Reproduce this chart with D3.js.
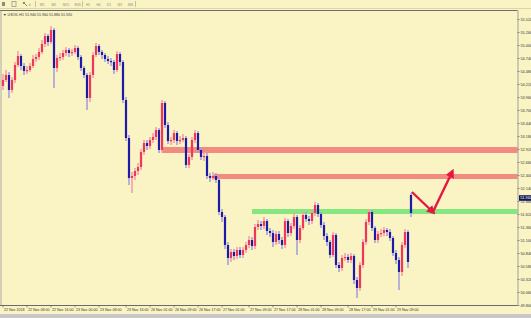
<!DOCTYPE html>
<html>
<head>
<meta charset="utf-8">
<script src="https://cdn.jsdelivr.net/npm/d3@7"></script>
<style>
  body { margin: 0; background: #faf3c4; }
  svg { display: block; font-family: "Liberation Sans", Arial, sans-serif; }
</style>
</head>
<body>
<svg id="chart" width="531" height="318"></svg>
<script>
// H1 bars: [open, high, low, close]
const bars = [
  [54.18,54.42,54.10,54.30],[54.30,54.50,54.26,54.40],[54.40,54.46,53.94,54.10],[54.10,54.36,54.04,54.30],
  [54.30,54.66,54.24,54.60],[54.60,54.88,54.56,54.78],[54.78,54.82,54.50,54.58],[54.58,54.64,54.40,54.48],
  [54.48,54.58,54.42,54.50],[54.50,54.64,54.46,54.58],[54.58,54.80,54.54,54.72],[54.72,54.82,54.66,54.76],
  [54.76,54.94,54.70,54.86],[54.86,55.10,54.82,55.02],[55.02,55.24,54.96,55.18],[55.18,55.22,54.98,55.06],
  [55.06,55.38,55.02,55.30],[55.30,55.34,54.14,54.54],[54.54,54.80,54.46,54.74],[54.74,54.84,54.68,54.76],
  [54.76,54.90,54.70,54.84],[54.84,54.96,54.78,54.90],[54.90,54.94,54.76,54.84],[54.84,54.92,54.78,54.86],
  [54.86,55.00,54.82,54.94],[54.94,54.98,54.70,54.76],[54.76,54.80,54.48,54.54],[54.54,54.58,54.34,54.40],
  [54.40,54.44,53.70,53.94],[53.94,54.46,53.86,54.40],[54.40,54.86,54.34,54.80],[54.80,55.04,54.76,54.98],
  [54.98,55.02,54.80,54.86],[54.86,54.90,54.72,54.80],[54.80,54.84,54.66,54.72],[54.72,54.78,54.62,54.68],
  [54.68,54.74,54.58,54.66],[54.66,54.70,54.42,54.50],[54.50,54.88,54.46,54.82],[54.82,54.86,54.58,54.66],
  [54.66,54.70,53.84,53.90],[53.90,53.96,53.08,53.14],[53.14,53.20,52.20,52.34],[52.34,52.46,52.04,52.38],
  [52.38,52.54,52.30,52.48],[52.48,52.64,52.40,52.56],[52.56,52.92,52.50,52.86],[52.86,53.10,52.80,53.04],
  [53.04,53.10,52.90,52.98],[52.98,53.16,52.92,53.10],[53.10,53.24,53.04,53.16],[53.16,53.36,53.10,53.30],
  [53.30,53.34,52.84,52.90],[52.90,53.90,52.84,53.84],[53.84,53.88,53.34,53.40],[53.40,53.46,53.02,53.08],
  [53.08,53.16,53.00,53.10],[53.10,53.30,53.04,53.24],[53.24,53.28,53.00,53.08],[53.08,53.18,53.02,53.10],
  [53.10,53.22,53.06,53.14],[53.14,53.18,52.54,52.60],[52.60,52.82,52.54,52.76],[52.76,53.16,52.70,53.10],
  [53.10,53.30,53.04,53.24],[53.24,53.28,52.84,52.90],[52.90,52.96,52.70,52.76],[52.76,52.86,52.68,52.78],
  [52.78,52.84,52.32,52.38],[52.38,52.44,52.26,52.34],[52.34,52.46,52.30,52.38],[52.38,52.44,52.24,52.30],
  [52.30,52.34,51.60,51.66],[51.66,51.72,51.46,51.56],[51.56,51.60,50.92,51.00],[51.00,51.06,50.60,50.74],
  [50.74,50.92,50.66,50.86],[50.86,50.92,50.70,50.78],[50.78,50.96,50.72,50.90],[50.90,50.96,50.74,50.80],
  [50.80,50.96,50.74,50.90],[50.90,51.06,50.84,51.00],[51.00,51.18,50.94,51.10],[51.10,51.16,50.90,50.98],
  [50.98,51.42,50.92,51.36],[51.36,51.50,51.30,51.42],[51.42,51.48,51.30,51.38],[51.38,51.56,51.32,51.48],
  [51.48,51.52,51.20,51.28],[51.28,51.34,51.16,51.24],[51.24,51.30,50.96,51.06],[51.06,51.28,51.00,51.22],
  [51.22,51.28,51.02,51.10],[51.10,51.16,50.92,51.00],[51.00,51.54,50.94,51.48],[51.48,51.52,51.16,51.24],
  [51.24,51.44,51.18,51.38],[51.38,51.64,51.32,51.56],[51.56,51.60,50.80,51.10],[51.10,51.40,51.04,51.34],
  [51.34,51.66,51.30,51.60],[51.60,51.66,51.46,51.52],[51.52,51.58,51.40,51.48],[51.48,51.70,51.42,51.64],
  [51.64,51.86,51.58,51.80],[51.80,51.84,51.56,51.62],[51.62,51.66,51.34,51.40],[51.40,51.46,51.10,51.18],
  [51.18,51.24,50.98,51.06],[51.06,51.10,50.74,50.80],[50.80,51.26,50.76,51.20],[51.20,51.24,50.54,50.60],
  [50.60,50.66,50.46,50.54],[50.54,50.80,50.48,50.74],[50.74,50.84,50.68,50.76],[50.76,50.82,50.64,50.70],
  [50.70,50.84,50.64,50.78],[50.78,50.82,50.22,50.30],[50.30,50.36,49.94,50.14],[50.14,50.66,50.08,50.60],
  [50.60,51.12,50.54,51.06],[51.06,51.52,51.00,51.46],[51.46,51.72,51.40,51.66],[51.66,51.70,51.28,51.34],
  [51.34,51.38,51.04,51.10],[51.10,51.28,51.04,51.22],[51.22,51.32,51.16,51.24],[51.24,51.36,51.18,51.30],
  [51.30,51.34,51.18,51.26],[51.26,51.32,51.08,51.14],[51.14,51.18,50.78,50.84],[50.84,50.90,50.62,50.70],
  [50.70,50.76,50.10,50.46],[50.46,51.06,50.38,51.00],[51.00,51.32,50.94,51.26],[51.26,51.30,50.54,50.66],
  [52.00,52.04,51.56,51.64]
];

const priceTicks = [49.80, 50.06, 50.32, 50.58, 50.84, 51.10, 51.36, 51.62, 51.88, 52.14, 52.40, 52.66,
  52.92, 53.18, 53.44, 53.70, 53.96, 54.22, 54.48, 54.74, 55.00, 55.26, 55.52];

const timeTickBars = [0, 8, 16, 24, 32, 41, 49, 57, 65, 73, 82, 90, 98, 106, 115, 123, 131];
const timeLabels = ["22 Nov 2018", "22 Nov 08:00", "22 Nov 16:00", "23 Nov 00:00", "23 Nov 08:00",
  "23 Nov 16:00", "26 Nov 01:00", "26 Nov 09:00", "26 Nov 17:00", "27 Nov 01:00", "27 Nov 09:00",
  "27 Nov 17:00", "28 Nov 01:00", "28 Nov 09:00", "28 Nov 17:00", "29 Nov 01:00", "29 Nov 09:00"];

// zones: start bar, upper price, lower price
const zoneStarts = [53, 70, 83];
const zoneTops = [52.96, 52.42, 51.72];
const zoneBottoms = [52.84, 52.32, 51.62];
const zoneColors = ["#f38b83", "#f38b83", "#86e67f"];

// arrow path (bar position, price)
const arrowPts = [[136.3, 52.06], [143.3, 51.66], [149.7, 52.46]];

const lastPrice = 51.94;
const title = "▼ USOIL,H1  51.940 51.960 51.880 51.920";
const periods = ["M1", "M5", "M15", "M30", "H1", "H4", "D1", "W1", "MN"];

const svg = d3.select("#chart");
const plotLeft = 1, plotRight = 517.5, plotTop = 10.5, plotBottom = 305.5;

const x = d3.scaleLinear().domain([0, 136]).range([3, 411]);
const y = d3.scaleLinear().domain([49.80, 55.52]).range([305, 19]);

svg.append("rect").attr("width", 531).attr("height", 318).attr("fill", "#faf3c4");

// toolbar
const tb = svg.append("g");
tb.append("line").attr("x1", 0).attr("x2", 531).attr("y1", 8.5).attr("y2", 8.5).attr("stroke", "#ddd5a8");
[35.5, 82.5, 135.5].forEach(sx => {
  tb.append("line").attr("x1", sx).attr("x2", sx).attr("y1", 1).attr("y2", 7).attr("stroke", "#c8c0a0");
});
tb.append("rect").attr("x", 2).attr("y", 2).attr("width", 3).attr("height", 4).attr("fill", "#8a8a8a");
tb.append("rect").attr("x", 12).attr("y", 1.5).attr("width", 4).attr("height", 5).attr("fill", "none").attr("stroke", "#8a8a8a").attr("stroke-width", 0.7);
tb.append("path").attr("d", "M23,2 L27,6 M25,2 L23,4").attr("stroke", "#666").attr("stroke-width", 0.8);
tb.append("text").attr("x", 29).attr("y", 6).attr("font-size", 3).attr("fill", "#666").text("▾");
tb.selectAll(".per").data(periods).enter().append("text")
  .attr("x", (d, i) => i < 4 ? 40 + i * 11.5 : 86 + (i - 4) * 10.5)
  .attr("y", 5.8)
  .attr("font-size", 3.2)
  .attr("fill", "#8a8a8a")
  .text(d => d);

// frame
svg.append("line").attr("x1", 0).attr("x2", plotRight).attr("y1", plotTop).attr("y2", plotTop)
  .attr("stroke", "#6b6b6b").attr("stroke-width", 1.2);
svg.append("line").attr("x1", plotLeft).attr("x2", plotLeft).attr("y1", plotTop).attr("y2", plotBottom)
  .attr("stroke", "#9a9a9a").attr("stroke-width", 0.8);
svg.append("text").attr("x", 3).attr("y", 15.5).attr("font-size", 3.6).attr("fill", "#333").text(title);

// zones
svg.append("g").selectAll("rect").data(zoneStarts).enter().append("rect")
  .attr("x", d => x(d))
  .attr("y", (d, i) => y(zoneTops[i]))
  .attr("width", d => plotRight - x(d))
  .attr("height", (d, i) => y(zoneBottoms[i]) - y(zoneTops[i]))
  .attr("fill", (d, i) => zoneColors[i]);

// candles
const cg = svg.append("g");
const up = d => d[3] >= d[0];
cg.selectAll(".wick").data(bars).enter().append("line")
  .attr("x1", (d, i) => x(i)).attr("x2", (d, i) => x(i))
  .attr("y1", d => y(d[1])).attr("y2", d => y(d[2]))
  .attr("stroke", d => up(d) ? "#f5a0aa" : "#a4a0dc")
  .attr("stroke-width", 1.6);
cg.selectAll(".body").data(bars).enter().append("rect")
  .attr("x", (d, i) => x(i) - 1.1)
  .attr("width", 2.2)
  .attr("y", d => y(Math.max(d[0], d[3])))
  .attr("height", d => Math.max(1.2, Math.abs(y(d[0]) - y(d[3]))))
  .attr("fill", d => up(d) ? "#f0365a" : "#1d1aa8");

// arrow
const defs = svg.append("defs");
defs.append("marker")
  .attr("id", "arrow")
  .attr("viewBox", "0 -5 10 10")
  .attr("refX", 6)
  .attr("refY", 0)
  .attr("markerUnits", "userSpaceOnUse")
  .attr("markerWidth", 9)
  .attr("markerHeight", 9)
  .attr("orient", "auto")
  .append("path")
  .attr("d", "M0,-5L10,0L0,5Z")
  .attr("fill", "#e8173f");
svg.append("g").selectAll("line").data(d3.pairs(arrowPts)).enter().append("line")
  .attr("x1", d => x(d[0][0])).attr("y1", d => y(d[0][1]))
  .attr("x2", d => x(d[1][0])).attr("y2", d => y(d[1][1]))
  .attr("stroke", "#e8173f")
  .attr("stroke-width", 2.4)
  .attr("marker-end", "url(#arrow)");

// right price axis
const yAxis = d3.axisRight(y).tickValues(priceTicks).tickSize(2).tickFormat(d3.format(".3f"));
const ya = svg.append("g").attr("transform", `translate(${plotRight},0)`).call(yAxis);
ya.select(".domain").attr("d", `M0.5,${plotTop}V${plotBottom}`).attr("stroke", "#8a8a8a").attr("stroke-width", 0.8);
ya.selectAll(".tick line").attr("stroke", "#555").attr("stroke-width", 0.6);
ya.selectAll(".tick text").attr("x", 3).attr("font-size", 3.8).attr("fill", "#333").attr("font-family", "Liberation Sans, Arial, sans-serif");

// current price tag
const cp = svg.append("g").attr("transform", `translate(519,${y(lastPrice)})`);
cp.append("rect").attr("x", 0).attr("y", -2.8).attr("width", 12).attr("height", 5.6).attr("fill", "#141a55");
cp.append("text").attr("x", 1.2).attr("y", 1.4).attr("font-size", 3.8).attr("fill", "#fff").text(d3.format(".3f")(lastPrice));

// bottom time axis
const xa = svg.append("g").attr("transform", `translate(0,${plotBottom})`);
xa.append("line").attr("x1", 0).attr("x2", plotRight).attr("y1", 0).attr("y2", 0).attr("stroke", "#6b6b6b").attr("stroke-width", 1);
const tt = xa.selectAll(".tt").data(timeTickBars).enter().append("g")
  .attr("transform", d => `translate(${x(d)},0)`);
tt.append("line").attr("y1", 0).attr("y2", 2).attr("stroke", "#555").attr("stroke-width", 0.6);
tt.append("text").attr("x", 1).attr("y", 5.5).attr("font-size", 3.6).attr("fill", "#333")
  .text((d, i) => timeLabels[i]);

// bottom status strip
svg.append("rect").attr("x", 0).attr("y", 314).attr("width", 531).attr("height", 4).attr("fill", "#c8c8c8");
</script>
</body>
</html>
